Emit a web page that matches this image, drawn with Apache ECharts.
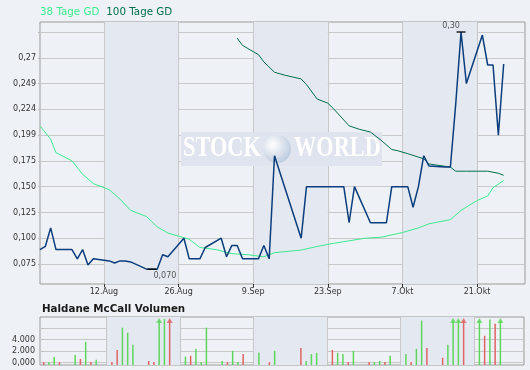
<!DOCTYPE html>
<html><head><meta charset="utf-8">
<script src="https://cdn.jsdelivr.net/npm/echarts@6/dist/echarts.min.js"></script>
<style>html,body{margin:0;padding:0;background:#eef2f6}#c{width:530px;height:370px}</style>
</head><body><div id="c"></div>
<script>
const YEAR = '2018-';
const START = '07-31';
const tickDates = ['08-12','08-26','09-09','09-23','10-07','10-21'];
const tickLabels = ['12.Aug','26.Aug','9.Sep','23.Sep','7.Okt','21.Okt'];
const priceTicks = [0.075,0.1,0.125,0.15,0.175,0.2,0.225,0.25,0.275,0.3];
const priceTickLabels = ['0,075','0,100','0,125','0,150','0,175','0,199','0,224','0,249','0,27',''];
const volTicks = [0,2000,4000,6000];
const volTickLabels = ['0,000','2.000','4.000',''];

const priceDates = ['07-31','08-01','08-02','08-03','08-06','08-07','08-08','08-09','08-10','08-13','08-14','08-15','08-16','08-17','08-20','08-21','08-22','08-23','08-24','08-27','08-28','08-29','08-30','08-31','09-03','09-04','09-05','09-06','09-07','09-10','09-11','09-12','09-13','09-18','09-19','09-20','09-21','09-24','09-25','09-26','09-27','09-28','10-01','10-02','10-03','10-04','10-05','10-08','10-09','10-10','10-11','10-12','10-15','10-16','10-17','10-18','10-19','10-22','10-23','10-24','10-25','10-26'];
const priceValues = [0.089,0.092,0.110,0.089,0.089,0.080,0.089,0.074,0.080,0.078,0.076,0.078,0.078,0.077,0.070,0.070,0.070,0.084,0.082,0.100,0.080,0.080,0.080,0.091,0.100,0.082,0.093,0.093,0.080,0.080,0.093,0.080,0.180,0.100,0.150,0.150,0.150,0.150,0.150,0.150,0.115,0.150,0.115,0.115,0.115,0.115,0.150,0.150,0.130,0.150,0.180,0.170,0.169,0.169,0.230,0.300,0.250,0.297,0.268,0.268,0.200,0.269];

const ma38Dates = ['07-31','08-02','08-03','08-06','08-08','08-10','08-12','08-13','08-15','08-17','08-20','08-22','08-24','08-26','08-28','08-30','09-02','09-05','09-08','09-11','09-13','09-18','09-21','09-24','09-30','10-03','10-07','10-10','10-12','10-16','10-18','10-21','10-23','10-24','10-26'];
const ma38Values = [0.209,0.196,0.183,0.175,0.162,0.153,0.149,0.147,0.138,0.127,0.121,0.111,0.105,0.102,0.099,0.091,0.089,0.085,0.084,0.082,0.086,0.0885,0.092,0.095,0.100,0.101,0.1055,0.110,0.114,0.118,0.127,0.1365,0.141,0.149,0.156];

const ma100Dates = ['09-06','09-07','09-09','09-10','09-11','09-13','09-15','09-18','09-19','09-21','09-23','09-24','09-27','09-29','10-01','10-03','10-05','10-06','10-08','10-11','10-12','10-16','10-17','10-19','10-23','10-25','10-26'];
const ma100Values = [0.294,0.287,0.281,0.278,0.271,0.261,0.258,0.2545,0.249,0.235,0.231,0.226,0.209,0.2055,0.203,0.195,0.186,0.185,0.182,0.177,0.172,0.169,0.165,0.165,0.165,0.163,0.161];

const volDates = ['07-31','08-01','08-02','08-03','08-06','08-07','08-08','08-09','08-10','08-13','08-14','08-15','08-16','08-17','08-20','08-21','08-22','08-23','08-24','08-27','08-28','08-29','08-30','08-31','09-03','09-04','09-05','09-06','09-07','09-10','09-12','09-13','09-18','09-19','09-20','09-21','09-24','09-25','09-26','09-27','09-28','10-01','10-02','10-03','10-04','10-05','10-08','10-09','10-10','10-11','10-12','10-15','10-16','10-17','10-18','10-19','10-22','10-23','10-24','10-25','10-26'];
const volValues = [100,100,1000,100,1350,650,3600,100,500,100,2200,6050,5200,3100,300,100,9000,7550,9000,1050,1200,2400,100,6050,300,100,2050,100,1500,1700,100,2050,2550,300,1500,1700,2200,1700,1500,100,2050,100,100,300,100,1200,1500,100,2400,7270,2550,850,3100,9000,9000,9000,9000,4650,7450,6750,9000];
const volUp = ['r','g','g','r','g','r','g','r','g','r','r','g','g','g','r','r','g','g','r','g','r','g','g','g','g','r','g','g','r','g','r','g','r','g','g','g','r','g','g','r','g','r','g','g','r','g','g','r','g','g','r','r','g','g','g','r','g','r','g','r','g'];

const DAY = 86400000;
const dayOf = s => (Date.parse(YEAR + s) - Date.parse(YEAR + START)) / DAY;
const tickDays = tickDates.map(dayOf);
const pDays = priceDates.map(dayOf);

const BLUE = '#0b3d7c', LG = '#3dea8f', DG = '#00704a', GREEN = '#5ed65e', RED = '#e06464';
const VOL_MIN = -400, VOL_MAX = 7900, VOL_CAP = 7300;

const lookup = (vals, labels) => v => {
  let bi = 0, bd = Infinity;
  vals.forEach((t, i) => { const d = Math.abs(t - v); if (d < bd) { bd = d; bi = i; } });
  return labels[bi];
};
const comma = (v, n) => v.toFixed(n).replace('.', ',');

const maxV = Math.max(...priceValues), minV = Math.min(...priceValues);
const maxIdx = priceValues.indexOf(maxV);
const minIdxs = priceValues.map((v, i) => v === minV ? i : -1).filter(i => i >= 0);
const minIdx = minIdxs[Math.floor(minIdxs.length / 2)];

const volData = volDates.map((d, i) => ({
  value: [dayOf(d), Math.min(volValues[i], volValues[i] > VOL_MAX ? VOL_CAP : volValues[i])],
  itemStyle: { color: volUp[i] === 'g' ? GREEN : RED }
}));
const capData = volDates.map((d, i) => volValues[i] > VOL_MAX ? {
  value: [dayOf(d), VOL_CAP], itemStyle: { color: volUp[i] === 'g' ? GREEN : RED }
} : null).filter(x => x);

const gridLine = { show: true, lineStyle: { color: '#c8c8c8', width: 1 } };
const bands = { show: true, areaStyle: { color: ['#e4e9f1', 'rgba(0,0,0,0)'] } };
const lbl = { fontSize: 8, color: '#333', fontFamily: 'DejaVu Sans' };

const chart = echarts.init(document.getElementById('c'));
chart.setOption({
  backgroundColor: '#eef2f6',
  animation: false,
  textStyle: { fontFamily: 'DejaVu Sans' },
  legend: {
    left: 35, top: 5, padding: 0, itemGap: 2, itemWidth: 0, itemHeight: 14, icon: 'none',
    textStyle: { fontSize: 10.3 },
    data: [{ name: '38 Tage GD', textStyle: { color: LG } }, { name: '100 Tage GD', textStyle: { color: DG } }]
  },
  title: { text: 'Haldane McCall Volumen', left: 42, top: 304, padding: 0,
    textStyle: { fontSize: 10.3, fontWeight: 'bold', color: '#1a1a1a', fontFamily: 'DejaVu Sans' } },
  grid: [
    { left: 40, right: 5, top: 22, bottom: 86, show: true, borderColor: '#999', borderWidth: 1, backgroundColor: 'transparent', outerBoundsMode: 'none' },
    { left: 40, right: 6, top: 317, height: 48, show: true, borderColor: '#999', borderWidth: 1, backgroundColor: 'transparent', outerBoundsMode: 'none' }
  ],
  xAxis: [
    { gridIndex: 0, type: 'value', min: 0, max: 91,
      axisLine: { show: false },
      axisTick: { show: true, customValues: tickDays, length: 3, lineStyle: { color: '#333' } },
      axisLabel: Object.assign({ customValues: tickDays, formatter: lookup(tickDays, tickLabels), margin: 4 }, lbl),
      splitLine: gridLine, splitArea: bands },
    { gridIndex: 1, type: 'value', min: -0.7, max: 91.5,
      axisLine: { show: false },
      axisTick: { show: false, customValues: tickDays },
      axisLabel: { show: false, customValues: tickDays },
      splitLine: gridLine, splitArea: bands }
  ],
  yAxis: [
    { gridIndex: 0, type: 'value', min: 0.0556, max: 0.3097,
      axisLine: { show: false },
      axisTick: { show: true, customValues: priceTicks, length: 2, lineStyle: { color: '#bbb' } },
      axisLabel: Object.assign({ customValues: priceTicks, formatter: lookup(priceTicks, priceTickLabels), margin: 4 }, lbl),
      splitLine: gridLine },
    { gridIndex: 1, type: 'value', min: VOL_MIN, max: VOL_MAX, startValue: VOL_MIN,
      axisLine: { show: false },
      axisTick: { show: true, customValues: volTicks, length: 2, lineStyle: { color: '#bbb' } },
      axisLabel: Object.assign({ customValues: volTicks, formatter: lookup(volTicks, volTickLabels), margin: 5 }, lbl),
      splitLine: gridLine }
  ],
  series: [
    { name: '38 Tage GD', type: 'line', xAxisIndex: 0, yAxisIndex: 0, showSymbol: false, z: 3,
      lineStyle: { color: LG, width: 1 }, itemStyle: { color: LG },
      data: ma38Dates.map((d, i) => [dayOf(d), ma38Values[i]]) },
    { name: '100 Tage GD', type: 'line', xAxisIndex: 0, yAxisIndex: 0, showSymbol: false, z: 3,
      lineStyle: { color: DG, width: 1 }, itemStyle: { color: DG },
      data: ma100Dates.map((d, i) => [dayOf(d), ma100Values[i]]) },
    { name: 'Kurs', type: 'line', xAxisIndex: 0, yAxisIndex: 0, showSymbol: false, z: 4,
      lineStyle: { color: BLUE, width: 1.5 }, itemStyle: { color: BLUE },
      data: pDays.map((d, i) => [d, priceValues[i]]),
      markPoint: {
        symbol: 'rect', symbolSize: [9, 1.3], itemStyle: { color: '#000' }, silent: true,
        label: { show: true, position: 'inside', color: '#555', fontSize: 8, fontFamily: 'DejaVu Sans' },
        data: [
          { coord: [pDays[maxIdx], maxV], label: { formatter: comma(maxV, 2), offset: [-10, -6] } },
          { coord: [pDays[minIdx], minV], label: { formatter: comma(minV, 3), offset: [13, 7] } }
        ]
      } },
    { name: 'Volumen', type: 'bar', xAxisIndex: 1, yAxisIndex: 1, barWidth: 1.5, data: volData },
    { name: 'Cap', type: 'scatter', xAxisIndex: 1, yAxisIndex: 1, symbol: 'triangle', symbolSize: [6, 5], data: capData, z: 3 }
  ],
  graphic: [
    { type: 'rect', z: 1, silent: true, shape: { x: 181, y: 132, width: 201, height: 34 }, style: { fill: '#dfe4ee' } },
    { type: 'circle', z: 1, silent: true, shape: { cx: 277, cy: 149, r: 14 },
      style: { fill: { type: 'radial', x: 0.35, y: 0.35, r: 0.75, colorStops: [{ offset: 0, color: '#ffffff' }, { offset: 1, color: '#b9c7dc' }] } } },
    { type: 'text', z: 1, silent: true, x: 183, y: 149, scaleX: 0.77,
      style: { text: 'STOCK', font: 'bold 29px "Liberation Serif"', fill: '#ffffff', align: 'left', verticalAlign: 'middle' } },
    { type: 'text', z: 1, silent: true, x: 294, y: 149, scaleX: 0.77,
      style: { text: 'WORLD', font: 'bold 29px "Liberation Serif"', fill: '#ffffff', align: 'left', verticalAlign: 'middle' } }
  ]
});
</script>
</body></html>
